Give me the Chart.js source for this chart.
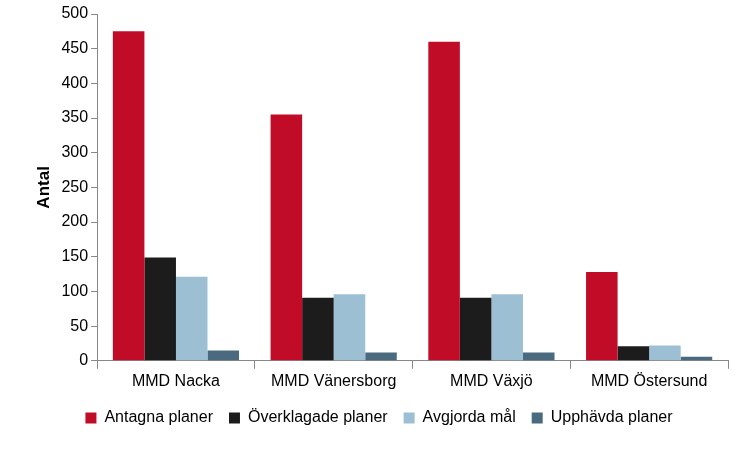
<!DOCTYPE html>
<html><head><meta charset="utf-8">
<script src="https://cdn.jsdelivr.net/npm/chart.js@4"></script>
<style>body{margin:0;background:#fff}#w{width:750px;height:450px}</style>
</head><body><div id="w"><canvas id="c"></canvas></div>
<script>
const categories=["MMD Nacka","MMD Vänersborg","MMD Växjö","MMD Östersund"];
const antagna=[475,355,460,128];
const overklagade=[149,91,91,21];
const avgjorda=[121,96,96,22];
const upphavda=[15,12,12,6];
const seriesNames=["Antagna planer","Överklagade planer","Avgjorda mål","Upphävda planer"];
const colors=["#C00C27","#1C1C1C","#9DBFD3","#4A6A80"];
const vals=[antagna,overklagade,avgjorda,upphavda];
Chart.defaults.font.family="'Liberation Sans', Arial, sans-serif";
Chart.defaults.font.size=16;
Chart.defaults.color="#000";
new Chart(document.getElementById('c'),{type:'bar',
data:{labels:categories,datasets:vals.map((v,i)=>({label:seriesNames[i],data:v,backgroundColor:colors[i],categoryPercentage:0.8,barPercentage:1}))},
options:{responsive:true,maintainAspectRatio:false,animation:false,
layout:{padding:{left:30,right:22,top:14,bottom:14}},
plugins:{legend:{position:'bottom',labels:{boxWidth:11,boxHeight:11,padding:16,font:{size:16}}},tooltip:{enabled:false}},
scales:{x:{grid:{display:true,drawOnChartArea:false,color:'#888',tickLength:8,offset:true},border:{color:'#888'},ticks:{font:{size:16}}},
y:{min:0,max:500,ticks:{stepSize:50,font:{size:16}},grid:{display:true,drawOnChartArea:false,color:'#888',tickLength:6},border:{color:'#888'},
title:{display:true,text:'Antal',font:{size:17,weight:'bold'}}}}}});
</script></body></html>
